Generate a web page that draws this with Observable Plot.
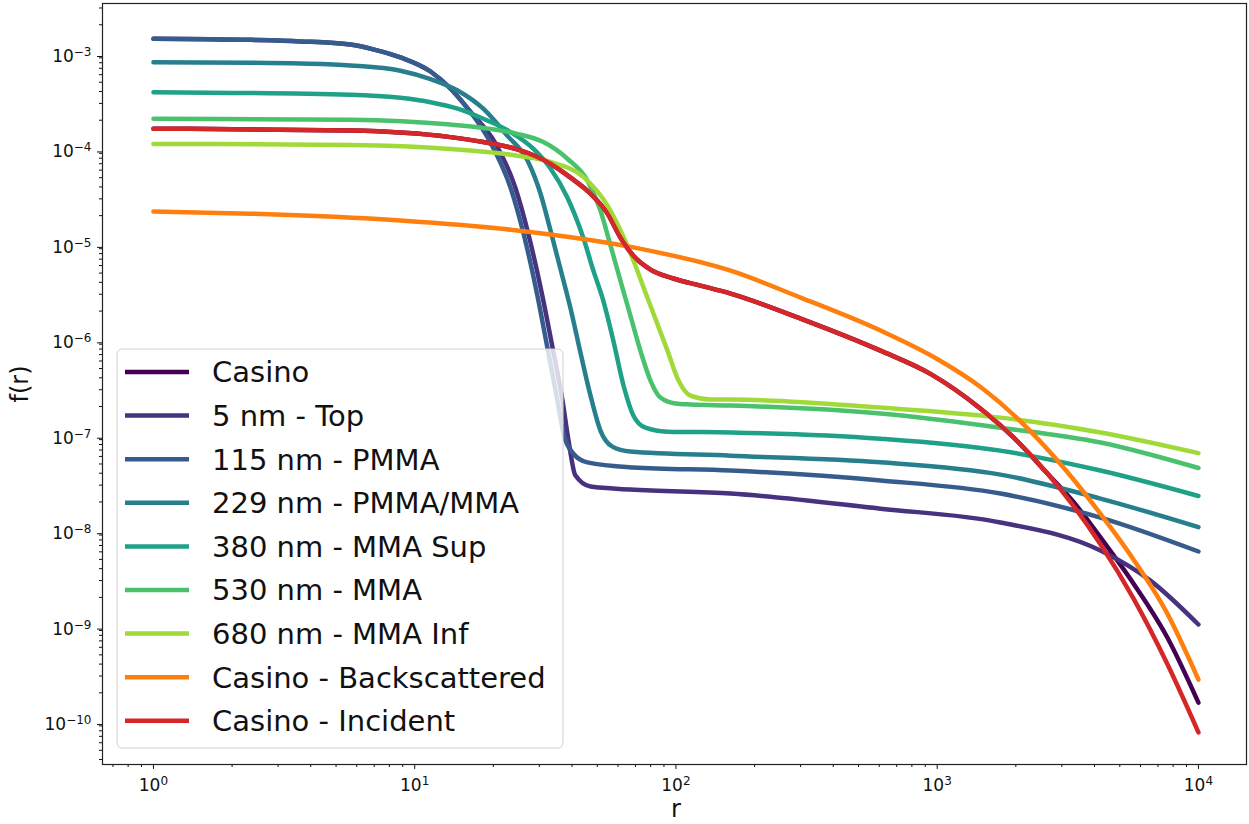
<!DOCTYPE html>
<html><head><meta charset="utf-8">
<script src="https://cdn.jsdelivr.net/npm/d3@7"></script>
<script src="https://cdn.jsdelivr.net/npm/@observablehq/plot@0.6"></script>
<style>
body{margin:0;background:#fff;}
svg{font-family:"DejaVu Sans",sans-serif;}
</style>
</head><body><div id="chart"></div>
<script>
// ---- series names & colours (legend order) ----
const seriesNames = ["Casino","5 nm - Top","115 nm - PMMA","229 nm - PMMA/MMA","380 nm - MMA Sup","530 nm - MMA","680 nm - MMA Inf","Casino - Backscattered","Casino - Incident"];
const seriesColors = ["#440154","#46327e","#365c8d","#277f8e","#1fa187","#4ac16d","#a0da39","#ff7f0e","#d62728"];

// ---- data: r and f(r) ----
const casinoR = [1,5.68,13.7,18.3,24.7,33.1,39.5,47.1,54.7,61.3,68.7,79.9,97.8,124,162,300,607,942,1466,1959,2642,3325,4217,5639,7603,10000];
const casinoF = [1.63e-4,1.56e-4,1.33e-4,1.18e-4,9.9e-5,7.0e-5,5.0e-5,3.4e-5,2.1e-5,1.18e-5,7.6e-6,5.45e-6,4.39e-6,3.7e-6,3.05e-6,1.67e-6,7.7e-7,4.4e-7,1.9e-7,9.5e-8,3.97e-8,2.0e-8,8.5e-9,2.8e-9,7.6e-10,1.58e-10];

const top5R = [1,2.35,3.65,5.68,7.0,8.82,11.5,13.7,16.3,20.4,24.3,27.2,30.8,33.7,36.8,38.8,41.2,47.1,67,162,607,1746,4217,6547,10000];
const top5F = [1.43e-3,1.39e-3,1.34e-3,1.24e-3,1.1e-3,9.1e-4,6.48e-4,4.3e-4,2.47e-4,1.14e-4,3.9e-5,1.3e-5,2.9e-6,8.3e-7,2.3e-7,8.8e-8,3.8e-8,2.9e-8,2.7e-8,2.45e-8,1.7e-8,1.22e-8,6.2e-9,3.0e-9,1.04e-9];

const pmma115R = [1,2.35,3.65,5.68,7.0,8.82,11.5,13.7,16.3,19.5,23.3,26.1,29.5,32.2,35.2,37.1,40.5,45.8,68.7,162,607,1746,4217,10000];
const pmma115F = [1.43e-3,1.39e-3,1.34e-3,1.24e-3,1.1e-3,9.1e-4,6.48e-4,4.3e-4,2.47e-4,1.17e-4,3.9e-5,1.3e-5,2.9e-6,8.3e-7,2.3e-7,1.04e-7,6.4e-8,5.2e-8,4.6e-8,4.27e-8,3.36e-8,2.45e-8,1.37e-8,6.05e-9];

const pmma229R = [1,2.35,3.65,5.68,8.82,11.5,14.6,18.3,22.6,27.0,30.3,33.1,36.1,39.5,43.1,47.1,51.4,57.1,66.9,162,607,1746,4217,10000];
const pmma229F = [8.1e-4,8.0e-4,7.85e-4,7.5e-4,6.6e-4,5.4e-4,4.1e-4,2.64e-4,1.38e-4,7.6e-5,3.41e-5,1.4e-5,5.58e-6,2.13e-6,7.36e-7,2.6e-7,1.12e-7,7.6e-8,6.75e-8,6.1e-8,5.2e-8,3.87e-8,2.17e-8,1.09e-8];

const mma380R = [1,5.68,8.82,11.5,14.6,18.3,23.3,28.5,33.1,38.4,44.3,48.3,52.7,57.6,63.0,68.7,76.4,92.8,162,607,1746,4217,10000];
const mma380F = [3.93e-4,3.7e-4,3.43e-4,3.09e-4,2.64e-4,2.07e-4,1.5e-4,1.0e-4,6.24e-5,3.1e-5,1.15e-5,5.3e-6,2.58e-6,9.8e-7,3.32e-7,1.61e-7,1.2e-7,1.09e-7,1.07e-7,9.2e-8,6.9e-8,4.27e-8,2.31e-8];

const mma530R = [1,5.68,13.7,18.3,24.7,31.1,38.4,45.8,51.4,56.2,61.3,66.9,73.1,79.9,87.2,99.6,113.6,162,607,1746,4217,10000];
const mma530F = [2.07e-4,2.02e-4,1.8e-4,1.66e-4,1.44e-4,1.18e-4,7.9e-5,4.67e-5,2.26e-5,9.7e-6,4.18e-6,1.8e-6,7.7e-7,3.74e-7,2.48e-7,2.15e-7,2.1e-7,2.05e-7,1.69e-7,1.2e-7,8.4e-8,4.54e-8];

const mma680R = [1,5.68,13.7,24.7,33.1,44.3,54.7,65.2,78.5,92.8,102.3,113.6,135.6,162,607,1746,4217,10000];
const mma680F = [1.13e-4,1.1e-4,1.0e-4,8.5e-5,7.3e-5,5.06e-5,2.55e-5,9.7e-6,2.58e-6,7.7e-7,3.74e-7,2.6e-7,2.37e-7,2.37e-7,1.95e-7,1.53e-7,1.07e-7,6.5e-8];

const backR = [1,2.35,8.82,24.7,68.7,162,300,607,1000,1466,2277,3154,4217,5639,7603,10000];
const backF = [2.21e-5,2.1e-5,1.78e-5,1.4e-5,9.3e-6,5.3e-6,2.77e-6,1.25e-6,6.3e-7,3.2e-7,1.1e-7,4.1e-8,1.5e-8,5.0e-9,1.35e-9,2.75e-10];

const incidentR = [1,5.68,13.7,18.3,24.7,33.1,39.5,47.1,54.7,61.3,68.7,79.9,97.8,124,162,300,607,942,1466,1959,2642,3325,4217,5639,7603,10000];
const incidentF = [1.63e-4,1.56e-4,1.33e-4,1.18e-4,9.9e-5,7.0e-5,5.0e-5,3.4e-5,2.1e-5,1.18e-5,7.6e-6,5.45e-6,4.39e-6,3.7e-6,3.05e-6,1.67e-6,7.7e-7,4.4e-7,1.9e-7,9.5e-8,3.97e-8,1.82e-8,7.2e-9,1.95e-9,4.0e-10,7.7e-11];

// ---- axis ticks ----
const xMajor = [1,10,100,1000,10000];
const yMajor = [1e-10,1e-9,1e-8,1e-7,1e-6,1e-5,1e-4,1e-3];

// ---- build table ----
const seriesR = [casinoR,top5R,pmma115R,pmma229R,mma380R,mma530R,mma680R,backR,incidentR];
const seriesF = [casinoF,top5F,pmma115F,pmma229F,mma380F,mma530F,mma680F,backF,incidentF];
const rows = [];
seriesNames.forEach((s,i)=>seriesR[i].forEach((r,j)=>rows.push({series:s, r, f:seriesF[i][j]})));

function minorTicks(lo, hi){
  const out=[];
  for(let e=Math.floor(Math.log10(lo)); e<=Math.ceil(Math.log10(hi)); e++)
    for(let m=2;m<=9;m++){const v=m*Math.pow(10,e); if(v>=lo&&v<=hi) out.push(v);}
  return out;
}
const xDom = [Math.pow(10,-0.195), Math.pow(10,4.184)];
const yDom = [Math.pow(10,-10.45), Math.pow(10,-2.476)];
const supFmt = d => "10^" + String(Math.round(Math.log10(d))).replace("-", "\u2212");

const chart = Plot.plot({
  width: 1249, height: 824,
  marginLeft: 102, marginRight: 3, marginTop: 3, marginBottom: 60,
  x: {type:"log", domain:xDom},
  y: {type:"log", domain:yDom},
  color: {domain: seriesNames, range: seriesColors},
  style: {fontFamily:"'DejaVu Sans', sans-serif", background:"white", color:"#111"},
  marks: [
    Plot.line(rows, {x:"r", y:"f", z:"series", stroke:"series", strokeWidth:4.5, curve:"monotone-x"}),
    Plot.axisX({ticks:xMajor, tickSize:5, tickPadding:9, tickFormat:supFmt, fontSize:17, label:null}),
    Plot.axisX({ticks:minorTicks(xDom[0],xDom[1]), tickSize:3, tickFormat:()=>"", label:null}),
    Plot.axisY({ticks:yMajor, tickSize:5, tickPadding:6, tickFormat:supFmt, fontSize:17, dy:3, label:null}),
    Plot.axisY({ticks:minorTicks(yDom[0],yDom[1]), tickSize:3, tickFormat:()=>"", label:null}),
    Plot.frame({stroke:"#222", strokeWidth:1.2})
  ]
});
document.getElementById("chart").appendChild(chart);

// superscript exponents on tick labels
d3.select(chart).selectAll("text").each(function(){
  const t = this.textContent;
  const m = /^10\^(.+)$/.exec(t);
  if(!m) return;
  this.textContent = "10";
  const ts = document.createElementNS("http://www.w3.org/2000/svg","tspan");
  ts.setAttribute("dy","-0.5em");
  ts.setAttribute("font-size","12");
  ts.textContent = m[1];
  this.appendChild(ts);
});

const svg = d3.select(chart);
// axis labels
svg.append("text").attr("x",676).attr("y",817).attr("text-anchor","middle").attr("font-size",24).attr("fill","#111").text("r");
svg.append("text").attr("transform","translate(28,384) rotate(-90)").attr("text-anchor","middle").attr("font-size",24).attr("fill","#111").text("f(r)");

// legend
const lg = svg.append("g").attr("text-anchor","start");
lg.append("rect").attr("x",117).attr("y",349).attr("width",446).attr("height",399).attr("rx",5)
  .attr("fill","white").attr("fill-opacity",0.8).attr("stroke","#d0d0d0");
seriesNames.forEach((name,i)=>{
  const y = 372 + i*43.6;
  lg.append("line").attr("x1",125).attr("x2",189).attr("y1",y).attr("y2",y).attr("stroke",seriesColors[i]).attr("stroke-width",4.5);
  lg.append("text").attr("x",212).attr("y",y).attr("dy","0.36em").attr("font-size",29).attr("text-anchor","start").attr("fill","#111").text(name);
});
</script>
</body></html>
